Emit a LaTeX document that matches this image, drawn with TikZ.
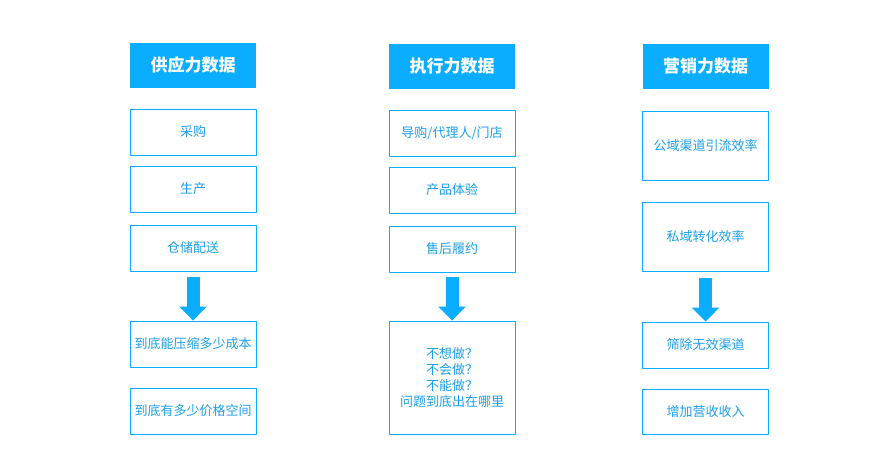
\documentclass[tikz,border=0pt]{standalone}
\usepackage{fontspec}
\setmainfont{Noto Sans CJK SC}
\usetikzlibrary{arrows.meta}
\definecolor{topblue}{HTML}{0AADFF}
\definecolor{txtblue}{HTML}{1C9FEA}
\tikzset{
	head/.style={fill=topblue,text=white,minimum width=126pt,minimum height=45pt,inner sep=0pt,font=\fontsize{17}{20}\selectfont\bfseries},
	item/.style={draw=topblue,line width=0.9pt,text=txtblue,minimum width=126pt,minimum height=46pt,inner sep=0pt,align=center,font=\fontsize{13}{16}\selectfont},
	fatarrow/.style={draw=topblue,line width=13pt,-{Triangle[width=27pt,length=14pt]}}
}
\begin{document}
\begin{tikzpicture}[x=1pt,y=-1pt,line join=round]
	\def\xa{193}
	\def\xb{452}
	\def\xc{705.5}
	\useasboundingbox (0,0) rectangle (896,454);
	\node[head] (ha) at (\xa,65.5) {供应力数据};
	\node[item] (a1) at (\xa,132) {采购};
	\node[item] (a2) at (\xa,189) {生产};
	\node[item] (a3) at (\xa,248) {仓储配送};
	\node[item] (a4) at (\xa,344) {到底能压缩多少成本};
	\node[item] (a5) at (\xa,411) {到底有多少价格空间};
	\draw[fatarrow] ([yshift=-6pt]a3.south) -- (a4.north);
	\node[head] (hb) at (\xb,66.5) {执行力数据};
	\node[item] (b1) at (\xb,133) {导购/代理人/门店};
	\node[item] (b2) at (\xb,190) {产品体验};
	\node[item] (b3) at (\xb,249) {售后履约};
	\node[item,minimum height=113pt] (b4) at (\xb,377.5) {不想做？\\不会做？\\不能做？\\问题到底出在哪里};
	\draw[fatarrow] ([yshift=-5pt]b3.south) -- (b4.north);
	\node[head] (hc) at (\xc,66.5) {营销力数据};
	\node[item,minimum height=69pt] (c1) at (\xc,145.5) {公域渠道引流效率};
	\node[item,minimum height=69pt] (c2) at (\xc,236.5) {私域转化效率};
	\node[item] (c3) at (\xc,345) {筛除无效渠道};
	\node[item,minimum height=45pt] (c4) at (\xc,411.5) {增加营收收入};
	\draw[fatarrow] ([yshift=-7pt]c2.south) -- (c3.north);
\end{tikzpicture}
\end{document}
